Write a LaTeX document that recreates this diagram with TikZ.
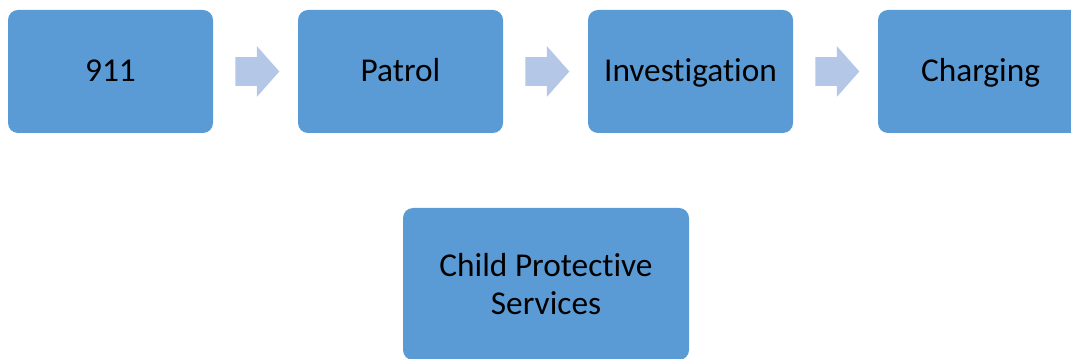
\documentclass[tikz,border=0pt]{standalone}
\usepackage{fontspec}
\setmainfont{Carlito}[Ligatures=NoCommon]
\usepackage{tikz}
\usetikzlibrary{shapes.arrows,positioning,calc}
\definecolor{stageblue}{HTML}{5B9BD5}
\definecolor{arrowblue}{HTML}{B4C7E7}

\begin{document}
\begin{tikzpicture}[x=0.75pt, y=-0.75pt,
    stage/.style={fill=stageblue, rounded corners=7.5pt, align=center,
        minimum width=153.75pt, minimum height=92.25pt, inner sep=0pt,
        text height=15.75pt, text depth=0pt,
        font=\fontsize{25}{28.3}\selectfont},
    blockarrow/.style={single arrow, fill=arrowblue, inner xsep=0pt,
        inner ysep=10.5pt, minimum height=33pt,
        single arrow head extend=8.25pt, single arrow tip angle=97}]
    \useasboundingbox (0,0) rectangle (1071,359);

    % top row: the stages
    \foreach \x/\name/\txt in {110.5/call/911, 400.5/patrol/Patrol,
        690.5/invest/Investigation, 980.5/charge/Charging} {
        \node[stage] (\name) at (\x, 71.5) {\txt};
    }

    % block arrows between the stages
    \foreach \a/\b in {call/patrol, patrol/invest, invest/charge}
        \node[blockarrow] (\a-\b) at ($(\a.east)!0.5!(\b.west) + (-4.5,0)$) {};

    % lower box
    \node[stage, minimum width=214.5pt, minimum height=114pt,
        text height=, text depth=] (cps) at (546, 284) {Child Protective\\Services};
\end{tikzpicture}
\end{document}
